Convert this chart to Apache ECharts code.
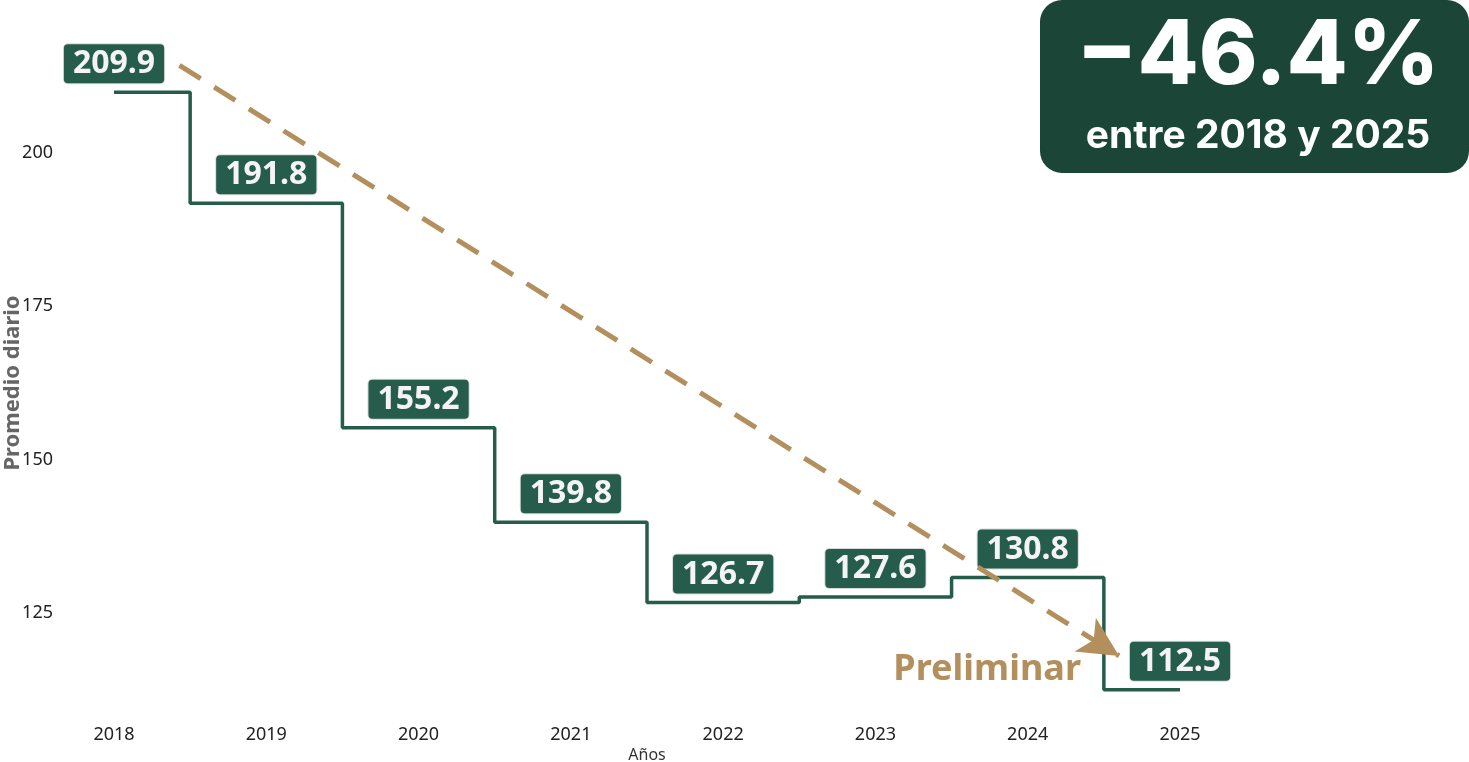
<!DOCTYPE html>
<html>
<head>
<meta charset="utf-8">
<script src="https://cdn.jsdelivr.net/npm/echarts@6/dist/echarts.min.js"></script>
<style>
  html, body { margin: 0; padding: 0; background: #fff; }
  #main { width: 1469px; height: 762px; }
</style>
</head>
<body>
<div id="main"></div>
<script>
// datos
var years = ['2018', '2019', '2020', '2021', '2022', '2023', '2024', '2025'];
var promedio = [209.9, 191.8, 155.2, 139.8, 126.7, 127.6, 130.8, 112.5];
var yTicks = [125, 150, 175, 200];
// flecha de tendencia (posicion en años desde 2018, valor)
var trendStart = [0.43, 214.3];
var trendEnd = [6.6, 118.0];

var verde = '#265c4b';
var dorado = '#b38f5e';

var myChart = echarts.init(document.getElementById('main'));

var option = {
    backgroundColor: '#fff',
    animation: false,
    grid: {
        left: 114,
        right: 289,
        top: 61,
        bottom: 57,
        containLabel: false,
        outerBoundsMode: 'none'
    },
    xAxis: [{
        type: 'category',
        data: years,
        boundaryGap: false,
        name: 'Años',
        nameLocation: 'middle',
        nameGap: 42,
        nameMoveOverlap: false,
        nameTextStyle: { color: '#333', fontSize: 16, fontFamily: 'Noto Sans' },
        axisLine: { show: false },
        axisTick: { show: false },
        axisLabel: { color: '#222', fontSize: 18, fontFamily: 'Noto Sans', margin: 21 }
    }, {
        // eje auxiliar para la flecha
        type: 'value',
        min: 0,
        max: years.length - 1,
        show: false
    }],
    yAxis: {
        type: 'value',
        min: 110,
        max: 215,
        interval: 5,
        name: 'Promedio diario',
        nameLocation: 'middle',
        nameGap: 90,
        nameMoveOverlap: false,
        nameTextStyle: { color: '#666', fontSize: 22, fontWeight: 'bold', fontFamily: 'Noto Sans' },
        axisLine: { show: false },
        axisTick: { show: false },
        splitLine: { show: false },
        axisLabel: {
            color: '#222',
            fontSize: 18,
            fontFamily: 'Noto Sans',
            margin: 61,
            formatter: function (v) {
                return yTicks.indexOf(v) >= 0 ? String(v) : '';
            }
        }
    },
    series: [{
        type: 'line',
        step: 'middle',
        data: promedio,
        symbol: 'circle',
        symbolSize: 0,
        showSymbol: true,
        z: 3,
        lineStyle: { color: verde, width: 3.5 },
        itemStyle: { color: verde },
        label: {
            show: true,
            position: 'top',
            distance: 9,
            formatter: function (p) { return p.value.toFixed(1); },
            color: '#f4f4f4',
            fontSize: 32,
            lineHeight: 34,
            fontWeight: 'bold',
            fontFamily: 'Noto Sans',
            backgroundColor: verde,
            borderColor: '#d8dcd9',
            borderWidth: 1,
            borderRadius: 4,
            padding: [3, 9, 2, 9]
        }
    }, {
        type: 'line',
        xAxisIndex: 1,
        data: [],
        z: 2,
        markLine: {
            silent: true,
            symbol: ['none', 'arrow'],
            symbolSize: [30, 40],
            label: { show: false },
            lineStyle: { color: dorado, width: 5, type: [25, 16], opacity: 1 },
            data: [[
                { coord: trendStart },
                { coord: trendEnd }
            ]]
        }
    }],
    graphic: [
        {
            type: 'rect',
            shape: { x: 1040, y: 0, width: 429, height: 173, r: 22 },
            style: { fill: '#1a4537' }
        },
        {
            type: 'text',
            x: 1258, y: 57,
            style: {
                text: '−46.4%',
                fill: '#fff',
                font: '800 89px Inter',
                align: 'center',
                verticalAlign: 'middle'
            }
        },
        {
            type: 'text',
            x: 1258, y: 136,
            style: {
                text: 'entre 2018 y 2025',
                fill: '#fff',
                font: 'bold 39px Inter',
                align: 'center',
                verticalAlign: 'middle'
            }
        },
        {
            type: 'text',
            x: 1081, y: 670,
            style: {
                text: 'Preliminar',
                fill: dorado,
                font: 'bold 36px "Noto Sans"',
                align: 'right',
                verticalAlign: 'middle'
            }
        }
    ]
};

myChart.setOption(option);
</script>
</body>
</html>
